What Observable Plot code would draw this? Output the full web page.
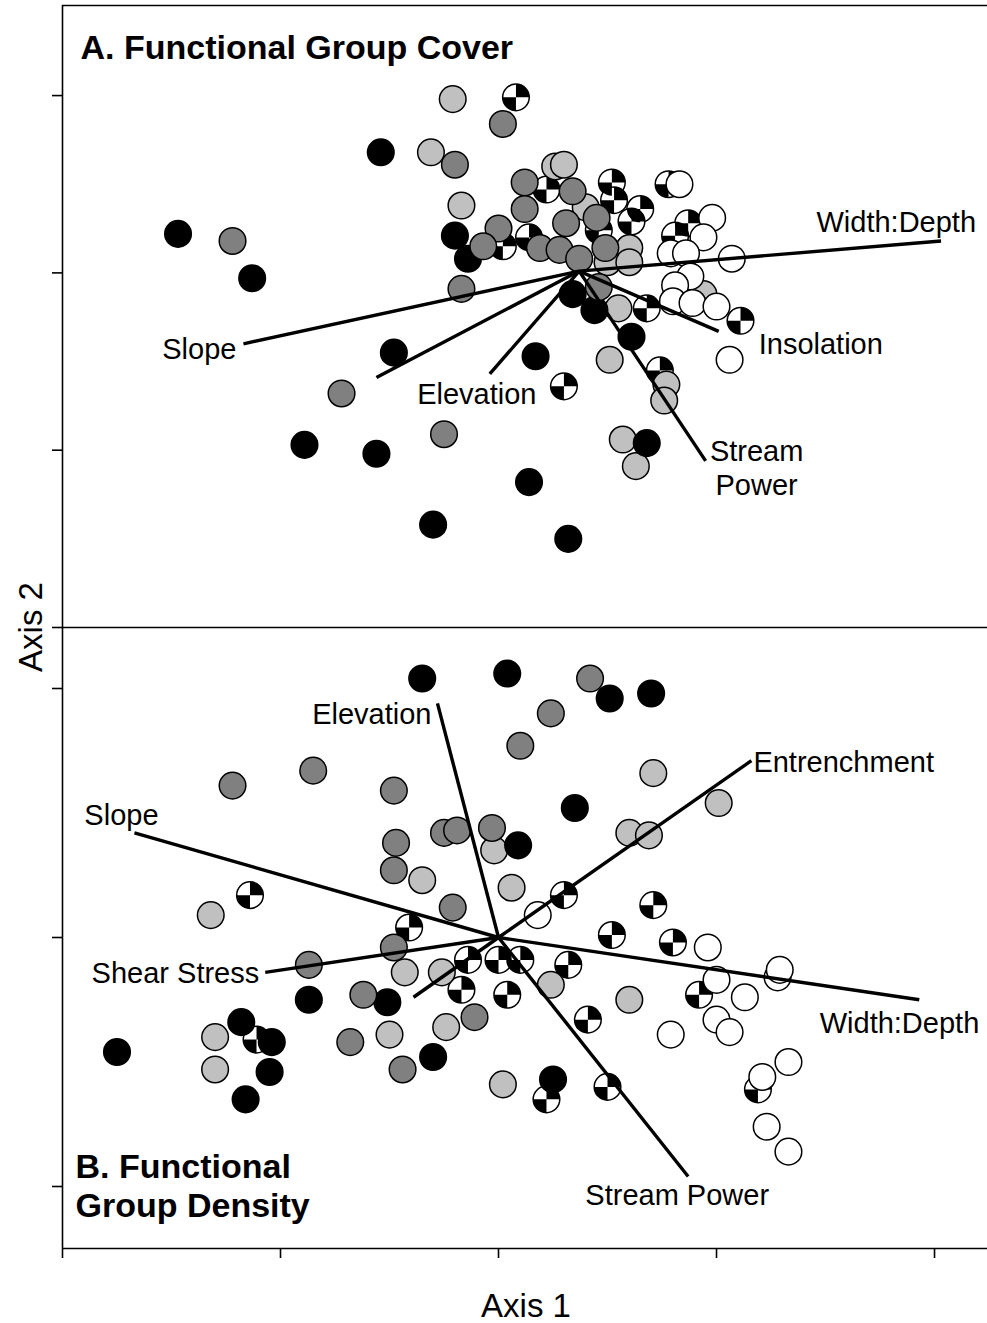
<!DOCTYPE html>
<html>
<head>
<meta charset="utf-8">
<script src="https://cdn.jsdelivr.net/npm/d3@7"></script>
<script src="https://cdn.jsdelivr.net/npm/@observablehq/plot@0.6"></script>
<style>
  body { margin: 0; background: #fff; }
  #chart { position: relative; width: 987px; height: 1323px; font-family: "Liberation Sans", Arial, sans-serif; color: #000; }
  #chart svg { position: absolute; left: 0; overflow: visible; }
  .axis-title { position: absolute; font-size: 33px; line-height: 1; white-space: nowrap; }
</style>
</head>
<body>
<div id="chart"></div>
<script>
// ---- NMS ordination scores, Axis 1 / Axis 2 ----
// Panel A: functional group cover
const coverBlack = [[-1.47,0.22],[-1.13,-0.03],[-0.54,0.68],[-0.20,0.21],[-0.14,0.08],[-0.48,-0.45],[0.17,-0.47],[-0.89,-0.97],[-0.56,-1.02],[-0.30,-1.42],[0.14,-1.18],[0.32,-1.50],[0.68,-0.96],[0.61,-0.36],[0.34,-0.12],[0.44,-0.21]];
const coverDark = [[-1.22,0.18],[0.02,0.84],[-0.20,0.61],[0.12,0.51],[0.34,0.46],[0.12,0.36],[0.31,0.28],[0.45,0.31],[0.00,0.25],[-0.07,0.15],[0.19,0.14],[0.28,0.13],[0.37,0.08],[0.49,0.14],[-0.17,-0.09],[0.46,-0.08],[-0.72,-0.68],[-0.25,-0.91]];
const coverLight = [[-0.21,0.98],[-0.31,0.68],[0.26,0.60],[0.30,0.61],[-0.17,0.38],[0.40,0.37],[0.60,0.14],[0.50,0.06],[0.60,0.06],[0.55,-0.20],[0.51,-0.49],[0.77,-0.63],[0.76,-0.72],[0.57,-0.94],[0.63,-1.09],[0.94,-0.12]];
const coverWhite = [[0.83,0.50],[0.98,0.31],[0.94,0.20],[0.79,0.11],[0.86,0.11],[1.07,0.08],[0.88,-0.02],[0.81,-0.07],[0.80,-0.16],[0.89,-0.17],[1.00,-0.19],[1.06,-0.49]];
const coverQuarter = [[0.08,0.99],[0.22,0.47],[0.52,0.51],[0.53,0.41],[0.65,0.36],[0.61,0.29],[0.02,0.15],[0.14,0.20],[0.46,0.24],[0.68,-0.20],[1.11,-0.27],[0.74,-0.55],[0.30,-0.64],[0.78,0.50],[0.87,0.28],[0.81,0.21]];
// environmental vectors (panel A), drawn from the joint-plot centre
const coverOrigin = [0.37, 0.01];
const coverVectors = [
  {name: "Width:Depth", x: 2.03, y: 0.18},
  {name: "Slope", x: -1.17, y: -0.40},
  {name: "", x: -0.56, y: -0.59},
  {name: "Elevation", x: -0.04, y: -0.57},
  {name: "Stream\nPower", x: 0.95, y: -1.06},
  {name: "Insolation", x: 1.01, y: -0.33}
];

// Panel B: functional group density
const densityBlack = [[-0.35,1.04],[0.04,1.06],[0.51,0.96],[0.70,0.98],[0.35,0.52],[0.09,0.37],[-0.87,-0.25],[-0.51,-0.26],[-0.30,-0.48],[-1.75,-0.46],[-1.18,-0.34],[-1.04,-0.42],[-1.05,-0.54],[-1.16,-0.65],[0.25,-0.57]];
const densityDark = [[0.42,1.04],[0.24,0.90],[0.10,0.77],[-1.22,0.61],[-0.85,0.67],[-0.48,0.59],[-0.47,0.38],[-0.25,0.42],[-0.19,0.43],[-0.03,0.44],[-0.48,0.27],[-0.21,0.12],[-0.48,-0.04],[-0.87,-0.11],[-0.62,-0.23],[-0.11,-0.32],[-0.68,-0.42],[-0.44,-0.53]];
const densityLight = [[0.71,0.66],[1.01,0.54],[0.60,0.42],[0.69,0.41],[-0.02,0.35],[-0.35,0.23],[0.06,0.20],[-1.32,0.09],[-0.43,-0.14],[-0.26,-0.14],[0.24,-0.19],[0.60,-0.25],[-0.24,-0.36],[-0.50,-0.39],[-1.30,-0.40],[-1.30,-0.53],[0.02,-0.59]];
const densityWhite = [[0.18,0.09],[0.96,-0.04],[1.00,-0.17],[1.28,-0.16],[1.29,-0.13],[1.13,-0.24],[1.00,-0.33],[1.06,-0.38],[0.79,-0.39],[1.33,-0.50],[1.21,-0.56],[1.23,-0.76],[1.33,-0.86]];
const densityQuarter = [[-1.14,0.17],[0.30,0.17],[-0.41,0.04],[0.71,0.13],[0.52,0.01],[0.80,-0.02],[-0.14,-0.09],[0.00,-0.09],[0.10,-0.09],[0.32,-0.11],[-0.17,-0.21],[0.04,-0.23],[0.92,-0.23],[0.41,-0.33],[-1.11,-0.41],[0.22,-0.65],[0.50,-0.60],[1.19,-0.61]];
const densityOrigin = [0, 0];
const densityVectors = [
  {name: "Elevation", x: -0.28, y: 0.94},
  {name: "Entrenchment", x: 1.16, y: 0.71},
  {name: "Slope", x: -1.67, y: 0.42},
  {name: "Shear Stress", x: -1.07, y: -0.14},
  {name: "Width:Depth", x: 1.93, y: -0.25},
  {name: "Stream Power", x: 0.87, y: -0.96},
  {name: "", x: -0.39, y: -0.24}
];

// axis ticks (unlabelled)
const xTicks = [-2, -1, 0, 1, 2];
const coverYTicks = [-2, -1, 0, 1];
const densityYTicks = [-1, 0, 1];

// ---- drawing ----
const FONT = "Liberation Sans, Arial, sans-serif";
const xDomain = [-2, 2.243];
const coverYDomain = [-2, 1.508];
const densityYDomain = [-1.249, 1.245];
const R = 13.3;

const groupOrder = ["quarter", "light", "white", "black", "dark"];
const groupFill = {quarter: "white", light: "#c0c0c0", white: "white", black: "black", dark: "#808080"};

function rows(sets) {
  const out = [];
  for (const g of groupOrder) for (const [x, y] of sets[g]) out.push({g, x, y});
  return out;
}

// circle split into quarters: top-right and bottom-left filled
const quarters = {
  draw(context, size) {
    const r = Math.sqrt(size / Math.PI);
    context.moveTo(0, 0);
    context.lineTo(r, 0);
    context.arc(0, 0, r, 0, -Math.PI / 2, true);
    context.closePath();
    context.moveTo(0, 0);
    context.lineTo(-r, 0);
    context.arc(0, 0, r, Math.PI, Math.PI / 2, true);
    context.closePath();
  }
};

function pointMarks(data) {
  const q = data.filter(d => d.g === "quarter");
  const rest = data.filter(d => d.g !== "quarter");
  return [
    Plot.dot(q, {x: "x", y: "y", r: R, fill: "white", stroke: "black", strokeWidth: 1.5}),
    Plot.dot(q, {x: "x", y: "y", r: R, symbol: quarters, fill: "black", stroke: "none"}),
    Plot.dot(rest, {x: "x", y: "y", r: R, fill: d => groupFill[d.g], stroke: "black", strokeWidth: 1.5})
  ];
}

function vectorMarks(vectors, origin, placement) {
  const marks = [
    Plot.link(vectors, {x1: () => origin[0], y1: () => origin[1], x2: "x", y2: "y", stroke: "black", strokeWidth: 3.4})
  ];
  for (const v of vectors) {
    if (!v.name) continue;
    const p = placement[v.name];
    marks.push(Plot.text([v], {
      x: "x", y: "y", text: "name",
      textAnchor: p.anchor, dx: p.dx, dy: p.dy,
      lineAnchor: "middle", lineHeight: 1.17,
      fontSize: 29, fill: "black"
    }));
  }
  return marks;
}

const coverData = rows({black: coverBlack, dark: coverDark, light: coverLight, white: coverWhite, quarter: coverQuarter});
const densityData = rows({black: densityBlack, dark: densityDark, light: densityLight, white: densityWhite, quarter: densityQuarter});

const coverLabels = {
  "Width:Depth": {anchor: "end", dx: 35, dy: -20},
  "Slope": {anchor: "end", dx: -7, dy: 4},
  "Elevation": {anchor: "middle", dx: -13, dy: 19},
  "Stream\nPower": {anchor: "middle", dx: 51, dy: 6},
  "Insolation": {anchor: "start", dx: 40, dy: 12}
};
const densityLabels = {
  "Elevation": {anchor: "end", dx: -6, dy: 10},
  "Entrenchment": {anchor: "start", dx: 2, dy: 0},
  "Slope": {anchor: "middle", dx: -13, dy: -19},
  "Shear Stress": {anchor: "end", dx: -6, dy: 0},
  "Width:Depth": {anchor: "end", dx: 60, dy: 22},
  "Stream Power": {anchor: "middle", dx: -11, dy: 18}
};

const commonStyle = {background: "transparent", overflow: "visible", fontFamily: FONT, color: "black"};

const coverPlot = Plot.plot({
  width: 987, height: 632,
  marginLeft: 62, marginRight: 0, marginTop: 5, marginBottom: 5,
  style: commonStyle,
  x: {domain: xDomain, axis: null},
  y: {domain: coverYDomain, axis: null},
  marks: [
    ...pointMarks(coverData),
    ...vectorMarks(coverVectors, coverOrigin, coverLabels),
    Plot.ruleY([coverYDomain[1]], {stroke: "black", strokeWidth: 1.6}),
    Plot.ruleY([coverYDomain[0]], {stroke: "black", strokeWidth: 1.6}),
    Plot.ruleX([xDomain[0]], {stroke: "black", strokeWidth: 1.6}),
    Plot.axisY({ticks: coverYTicks, tickSize: 10, fill: "none", stroke: "black", strokeWidth: 1.6, label: null}),
    Plot.text(["A. Functional Group Cover"], {
      frameAnchor: "top-left", dx: 18, dy: 43, lineAnchor: "middle", textAnchor: "start",
      fontSize: 34, fontWeight: "bold", fill: "black"
    })
  ]
});
coverPlot.style.top = "0px";

const densityPlot = Plot.plot({
  width: 987, height: 701,
  marginLeft: 62, marginRight: 0, marginTop: 5, marginBottom: 75,
  style: commonStyle,
  x: {domain: xDomain, axis: null},
  y: {domain: densityYDomain, axis: null},
  marks: [
    ...pointMarks(densityData),
    ...vectorMarks(densityVectors, densityOrigin, densityLabels),
    Plot.ruleY([densityYDomain[0]], {stroke: "black", strokeWidth: 1.6}),
    Plot.ruleX([xDomain[0]], {stroke: "black", strokeWidth: 1.6}),
    Plot.axisY({ticks: densityYTicks, tickSize: 10, fill: "none", stroke: "black", strokeWidth: 1.6, label: null}),
    Plot.axisX({ticks: xTicks, tickSize: 10, fill: "none", stroke: "black", strokeWidth: 1.6, label: null, anchor: "bottom"}),
    Plot.text(["B. Functional\nGroup Density"], {
      frameAnchor: "bottom-left", dx: 13, dy: -63.5, lineAnchor: "middle", textAnchor: "start",
      lineHeight: 1.147, fontSize: 34, fontWeight: "bold", fill: "black"
    })
  ]
});
densityPlot.style.top = "622px";

const chart = document.getElementById("chart");
chart.append(coverPlot, densityPlot);

const xTitle = document.createElement("div");
xTitle.className = "axis-title";
xTitle.textContent = "Axis 1";
xTitle.style.left = "526px";
xTitle.style.top = "1305px";
xTitle.style.transform = "translate(-50%, -50%)";
chart.append(xTitle);

const yTitle = document.createElement("div");
yTitle.className = "axis-title";
yTitle.textContent = "Axis 2";
yTitle.style.left = "30px";
yTitle.style.top = "627px";
yTitle.style.transform = "translate(-50%, -50%) rotate(-90deg)";
chart.append(yTitle);
</script>
</body>
</html>
